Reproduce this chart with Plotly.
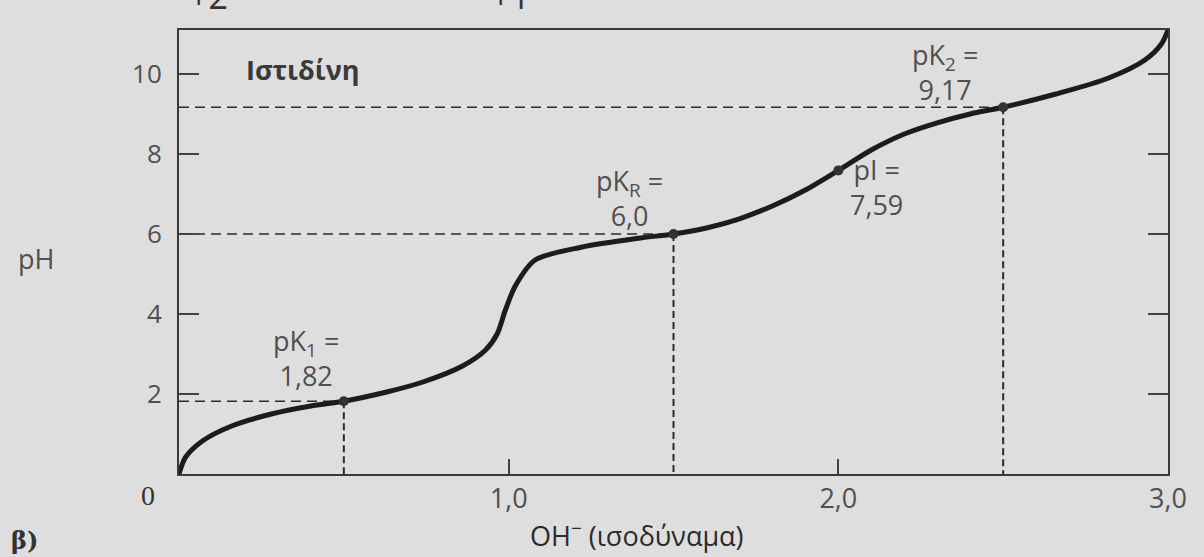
import plotly.graph_objects as go

# Titration curve of histidine
oh_eq = [0.0, 0.02, 0.07, 0.16, 0.28, 0.40, 0.50, 0.63, 0.74, 0.86, 0.93, 0.965, 0.99,
         1.02, 1.08, 1.22, 1.40, 1.50, 1.60, 1.70, 1.80, 1.90, 2.00, 2.10, 2.20,
         2.30, 2.40, 2.50, 2.66, 2.82, 2.93, 2.98, 3.00]
ph = [0.0, 0.42, 0.82, 1.2, 1.5, 1.7, 1.82, 2.05, 2.3, 2.7, 3.1, 3.5, 4.1,
      4.7, 5.35, 5.67, 5.9, 6.0, 6.15, 6.38, 6.7, 7.1, 7.59, 8.1, 8.5,
      8.78, 9.0, 9.17, 9.5, 9.9, 10.35, 10.75, 11.1]

# Marked points
pk_x = [0.5, 1.5, 2.0, 2.5]
pk_y = [1.82, 6.0, 7.59, 9.17]
pk_top = ["pK<sub>1</sub> =", "pK<sub>R</sub> =", "pI =", "pK<sub>2</sub> ="]
pk_val = ["1,82", "6,0", "7,59", "9,17"]
pk_dashed = [True, True, False, True]

y_ticks = [2, 4, 6, 8, 10]
x_ticks = [1, 2, 3]
x_ticktext = ["1,0", "2,0", "3,0"]

BG = "#dedede"
INK = "#2a2a2a"
GREY = "#505050"
FONT = "Open Sans"

W, H = 1204, 557
ML, MR, MT, MB = 179, 36, 30, 83
pw, ph_ = W - ML - MR, H - MT - MB


def px(xp):
    return (xp - ML) / pw


def py(yp):
    return (H - MB - yp) / ph_


fig = go.Figure()

# dashed guide lines
for xv, yv, d in zip(pk_x, pk_y, pk_dashed):
    if not d:
        continue
    fig.add_trace(go.Scatter(x=[0, xv], y=[yv, yv], mode="lines",
                             line=dict(color=INK, width=1.6, dash="10px,6px"),
                             hoverinfo="skip", showlegend=False))
    fig.add_trace(go.Scatter(x=[xv, xv], y=[yv, 0], mode="lines",
                             line=dict(color=INK, width=2, dash="7px,4px"),
                             hoverinfo="skip", showlegend=False))

# curve
fig.add_trace(go.Scatter(x=oh_eq, y=ph, mode="lines",
                         line=dict(color="#1c1c1c", width=5, shape="spline", smoothing=0.8),
                         showlegend=False))
# points
fig.add_trace(go.Scatter(x=pk_x, y=pk_y, mode="markers",
                         marker=dict(color="#333333", size=10),
                         showlegend=False))

# two-line labels: pixel offset of the label centre from each marked point
label_off = [(-38, -43), (-44, -36), (38, 17), (-58, -35)]
for xv, yv, (dx, dy), t, v in zip(pk_x, pk_y, label_off, pk_top, pk_val):
    fig.add_annotation(x=xv, y=yv, text=f"{t}<br>{v}", showarrow=False,
                       xshift=dx, yshift=-dy, align="center",
                       font=dict(family=FONT, size=27, color=GREY))

# paper annotations placed by pixel position
paper_texts = [
    (303, 70, "<b>Ιστιδίνη</b>", FONT, 27, "#3a3a3a", "middle"),
    (148, 495, "0", "Liberation Serif", 28, "#333", "middle"),
    (24, 540, "<b>β)</b>", "DejaVu Serif", 24, "#333", "middle"),
    (36, 258, "pH", FONT, 27, GREY, "middle"),
    (637, 534, "OH<sup>−</sup> (ισοδύναμα)", FONT, 27, "#2a2a2a", "middle"),
    (208, 21, "+2", FONT, 34, "#333", "bottom"),
    (510, 21, "+1", FONT, 34, "#333", "bottom"),
]
for xp, yp, t, fam, sz, col, ya in paper_texts:
    fig.add_annotation(x=px(xp), y=py(yp), xref="paper", yref="paper", text=t,
                       showarrow=False, xanchor="center", yanchor=ya,
                       font=dict(family=fam, size=sz, color=col))

fig.update_layout(
    width=W, height=H,
    margin=dict(l=ML, r=MR, t=MT, b=MB),
    paper_bgcolor=BG, plot_bgcolor=BG,
    font=dict(family=FONT, color=GREY),
    xaxis=dict(range=[0, 3], tickvals=x_ticks, ticktext=x_ticktext,
               ticks="inside", ticklen=15, tickwidth=1.6, tickcolor="#444",
               showline=True, linecolor="#3a3a3a", linewidth=2, mirror=True,
               showgrid=False, zeroline=False,
               tickfont=dict(family=FONT, size=27, color=GREY)),
    yaxis=dict(range=[0, 11.1], tickvals=y_ticks,
               ticks="inside", ticklen=20, tickwidth=1.6, tickcolor="#444",
               showline=True, linecolor="#3a3a3a", linewidth=2, mirror="ticks",
               showgrid=False, zeroline=False, ticklabelstandoff=10,
               tickfont=dict(family=FONT, size=26, color=GREY)),
)

fig.write_html("out.html", config={"displayModeBar": False},
               post_script="document.body.style.margin='0';document.body.style.background='#dedede';")
